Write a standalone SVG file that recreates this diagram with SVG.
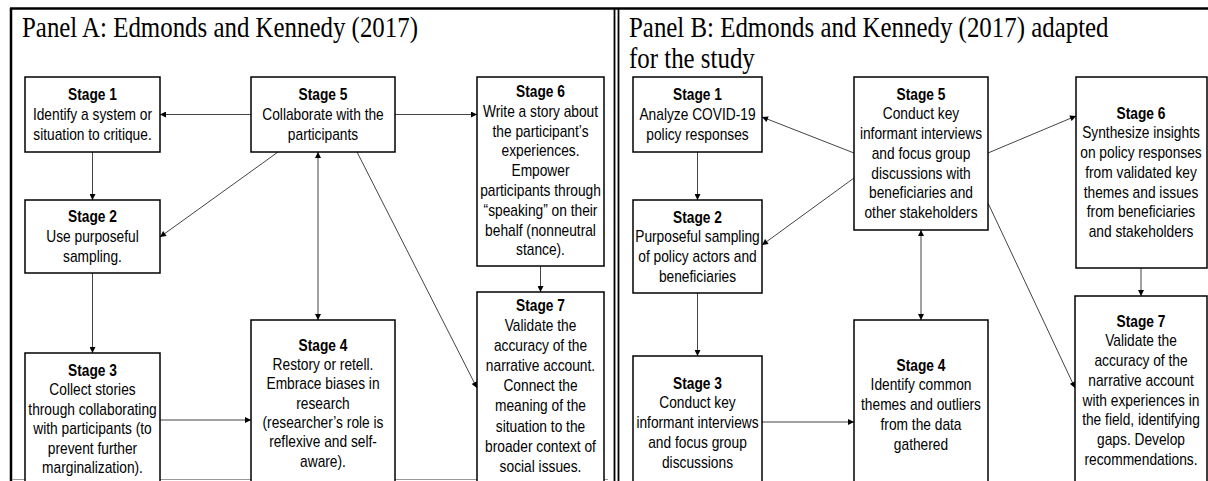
<svg xmlns="http://www.w3.org/2000/svg" width="1208" height="481" viewBox="0 0 1208 481">
<style>
.box{fill:#fff;stroke:#000;stroke-width:1.5}
.frame{stroke:#000;stroke-width:2.5;fill:none}
.con{stroke:#444;stroke-width:1;fill:none;marker-end:url(#ah)}
.both{marker-start:url(#ah)}
.t{font-family:"Liberation Sans",Arial,sans-serif;font-size:16px;fill:#000;text-anchor:middle}
.b{font-weight:bold}
.title{font-family:"Liberation Serif","Times New Roman",serif;font-size:30px;fill:#000}
</style>
<defs>
<marker id="ah" viewBox="0 0 10 10" refX="10" refY="5" markerWidth="7" markerHeight="6" markerUnits="userSpaceOnUse" orient="auto-start-reverse">
<path d="M0,0 L10,5 L0,10 z" fill="#000"/>
</marker>
</defs>
<rect width="1208" height="481" fill="#fff"/>
<g id="frame">
<line class="frame" x1="10" y1="8.5" x2="1208" y2="8.5"/>
<line class="frame" x1="11" y1="8" x2="11" y2="481"/>
<line x1="614.5" y1="8" x2="614.5" y2="481" stroke="#000" stroke-width="1.8"/>
<line x1="618.5" y1="8" x2="618.5" y2="481" stroke="#000" stroke-width="1.8"/>
<line x1="12" y1="479.5" x2="608" y2="479.5" stroke="#999" stroke-width="1"/>
</g>
<g id="titles">
<text class="title" transform="translate(22,37) scale(0.83,1)">Panel A: Edmonds and Kennedy (2017)</text>
<text class="title" transform="translate(629,37) scale(0.83,1)">Panel B: Edmonds and Kennedy (2017) adapted</text>
<text class="title" transform="translate(629,68) scale(0.83,1)">for the study</text>
</g>
<g id="connectors">
<path class="con" d="M251,114.5 L160,114.5"/>
<path class="con" d="M395,114.5 L477,114.5"/>
<path class="con" d="M92.5,152 L92.5,200"/>
<path class="con" d="M278,152 L160,237"/>
<path class="con both" d="M318,152 L318,320"/>
<path class="con" d="M357,152 L477,388"/>
<path class="con" d="M540.5,266 L540.5,292"/>
<path class="con" d="M92.5,273 L92.5,353"/>
<path class="con" d="M160,420 L251,420"/>
<path class="con" d="M854,153 L762,117"/>
<path class="con" d="M854,178 L762,245"/>
<path class="con" d="M988,153 L1076,116"/>
<path class="con both" d="M921,230 L921,320"/>
<path class="con" d="M988,203 L1075,388"/>
<path class="con" d="M1141,268 L1141,296"/>
<path class="con" d="M697.5,152 L697.5,200"/>
<path class="con" d="M697.5,293 L697.5,356"/>
<path class="con" d="M762,422 L854,422"/>
</g>
<g id="a1">
<rect class="box" x="25" y="77" width="135" height="75"/>
<text class="t" transform="translate(92.5,100) scale(0.86,1)"><tspan class="b" x="0">Stage 1</tspan><tspan x="0" dy="19.8">Identify a system or</tspan><tspan x="0" dy="19.8">situation to critique.</tspan></text>
</g>
<g id="a5">
<rect class="box" x="251" y="77" width="144" height="75"/>
<text class="t" transform="translate(323,100) scale(0.86,1)"><tspan class="b" x="0">Stage 5</tspan><tspan x="0" dy="19.8">Collaborate with the</tspan><tspan x="0" dy="19.8">participants</tspan></text>
</g>
<g id="a6">
<rect class="box" x="477" y="77" width="127" height="189"/>
<text class="t" transform="translate(540.5,97) scale(0.86,1)"><tspan class="b" x="0">Stage 6</tspan><tspan x="0" dy="19.8">Write a story about</tspan><tspan x="0" dy="19.8">the participant’s</tspan><tspan x="0" dy="19.8">experiences.</tspan><tspan x="0" dy="19.8">Empower</tspan><tspan x="0" dy="19.8">participants through</tspan><tspan x="0" dy="19.8">“speaking” on their</tspan><tspan x="0" dy="19.8">behalf (nonneutral</tspan><tspan x="0" dy="19.8">stance).</tspan></text>
</g>
<g id="a2">
<rect class="box" x="25" y="200" width="135" height="73"/>
<text class="t" transform="translate(92.5,222) scale(0.86,1)"><tspan class="b" x="0">Stage 2</tspan><tspan x="0" dy="19.8">Use purposeful</tspan><tspan x="0" dy="19.8">sampling.</tspan></text>
</g>
<g id="a3">
<rect class="box" x="25" y="353" width="135" height="140"/>
<text class="t" transform="translate(92.5,375.5) scale(0.86,1)"><tspan class="b" x="0">Stage 3</tspan><tspan x="0" dy="19.6">Collect stories</tspan><tspan x="0" dy="19.6">through collaborating</tspan><tspan x="0" dy="19.6">with participants (to</tspan><tspan x="0" dy="19.6">prevent further</tspan><tspan x="0" dy="19.6">marginalization).</tspan></text>
</g>
<g id="a4">
<rect class="box" x="251" y="320" width="144" height="170"/>
<text class="t" transform="translate(323,350.5) scale(0.86,1)"><tspan class="b" x="0">Stage 4</tspan><tspan x="0" dy="19.4">Restory or retell.</tspan><tspan x="0" dy="19.4">Embrace biases in</tspan><tspan x="0" dy="19.4">research</tspan><tspan x="0" dy="19.4">(researcher’s role is</tspan><tspan x="0" dy="19.4">reflexive and self-</tspan><tspan x="0" dy="19.4">aware).</tspan></text>
</g>
<g id="a7">
<rect class="box" x="477" y="292" width="127" height="200"/>
<text class="t" transform="translate(540.5,310.5) scale(0.86,1)"><tspan class="b" x="0">Stage 7</tspan><tspan x="0" dy="20.2">Validate the</tspan><tspan x="0" dy="20.2">accuracy of the</tspan><tspan x="0" dy="20.2">narrative account.</tspan><tspan x="0" dy="20.2">Connect the</tspan><tspan x="0" dy="20.2">meaning of the</tspan><tspan x="0" dy="20.2">situation to the</tspan><tspan x="0" dy="20.2">broader context of</tspan><tspan x="0" dy="20.2">social issues.</tspan></text>
</g>
<g id="b1">
<rect class="box" x="633" y="77" width="129" height="75"/>
<text class="t" transform="translate(697.5,100) scale(0.86,1)"><tspan class="b" x="0">Stage 1</tspan><tspan x="0" dy="19.8">Analyze COVID-19</tspan><tspan x="0" dy="19.8">policy responses</tspan></text>
</g>
<g id="b5">
<rect class="box" x="854" y="77" width="134" height="153"/>
<text class="t" transform="translate(921,99.5) scale(0.86,1)"><tspan class="b" x="0">Stage 5</tspan><tspan x="0" dy="19.8">Conduct key</tspan><tspan x="0" dy="19.8">informant interviews</tspan><tspan x="0" dy="19.8">and focus group</tspan><tspan x="0" dy="19.8">discussions with</tspan><tspan x="0" dy="19.8">beneficiaries and</tspan><tspan x="0" dy="19.8">other stakeholders</tspan></text>
</g>
<g id="b6">
<rect class="box" x="1076" y="77" width="131" height="191"/>
<text class="t" transform="translate(1141,118.5) scale(0.86,1)"><tspan class="b" x="0">Stage 6</tspan><tspan x="0" dy="19.8">Synthesize insights</tspan><tspan x="0" dy="19.8">on policy responses</tspan><tspan x="0" dy="19.8">from validated key</tspan><tspan x="0" dy="19.8">themes and issues</tspan><tspan x="0" dy="19.8">from beneficiaries</tspan><tspan x="0" dy="19.8">and stakeholders</tspan></text>
</g>
<g id="b2">
<rect class="box" x="633" y="200" width="129" height="93"/>
<text class="t" transform="translate(697.5,222.5) scale(0.86,1)"><tspan class="b" x="0">Stage 2</tspan><tspan x="0" dy="19.8">Purposeful sampling</tspan><tspan x="0" dy="19.8">of policy actors and</tspan><tspan x="0" dy="19.8">beneficiaries</tspan></text>
</g>
<g id="b3">
<rect class="box" x="633" y="356" width="129" height="140"/>
<text class="t" transform="translate(697.5,388.5) scale(0.86,1)"><tspan class="b" x="0">Stage 3</tspan><tspan x="0" dy="19.8">Conduct key</tspan><tspan x="0" dy="19.8">informant interviews</tspan><tspan x="0" dy="19.8">and focus group</tspan><tspan x="0" dy="19.8">discussions</tspan></text>
</g>
<g id="b4">
<rect class="box" x="854" y="320" width="134" height="170"/>
<text class="t" transform="translate(921,370.5) scale(0.86,1)"><tspan class="b" x="0">Stage 4</tspan><tspan x="0" dy="19.8">Identify common</tspan><tspan x="0" dy="19.8">themes and outliers</tspan><tspan x="0" dy="19.8">from the data</tspan><tspan x="0" dy="19.8">gathered</tspan></text>
</g>
<g id="b7">
<rect class="box" x="1075" y="296" width="132" height="200"/>
<text class="t" transform="translate(1141,326.5) scale(0.86,1)"><tspan class="b" x="0">Stage 7</tspan><tspan x="0" dy="19.8">Validate the</tspan><tspan x="0" dy="19.8">accuracy of the</tspan><tspan x="0" dy="19.8">narrative account</tspan><tspan x="0" dy="19.8">with experiences in</tspan><tspan x="0" dy="19.8">the field, identifying</tspan><tspan x="0" dy="19.8">gaps. Develop</tspan><tspan x="0" dy="19.8">recommendations.</tspan></text>
</g>
</svg>
